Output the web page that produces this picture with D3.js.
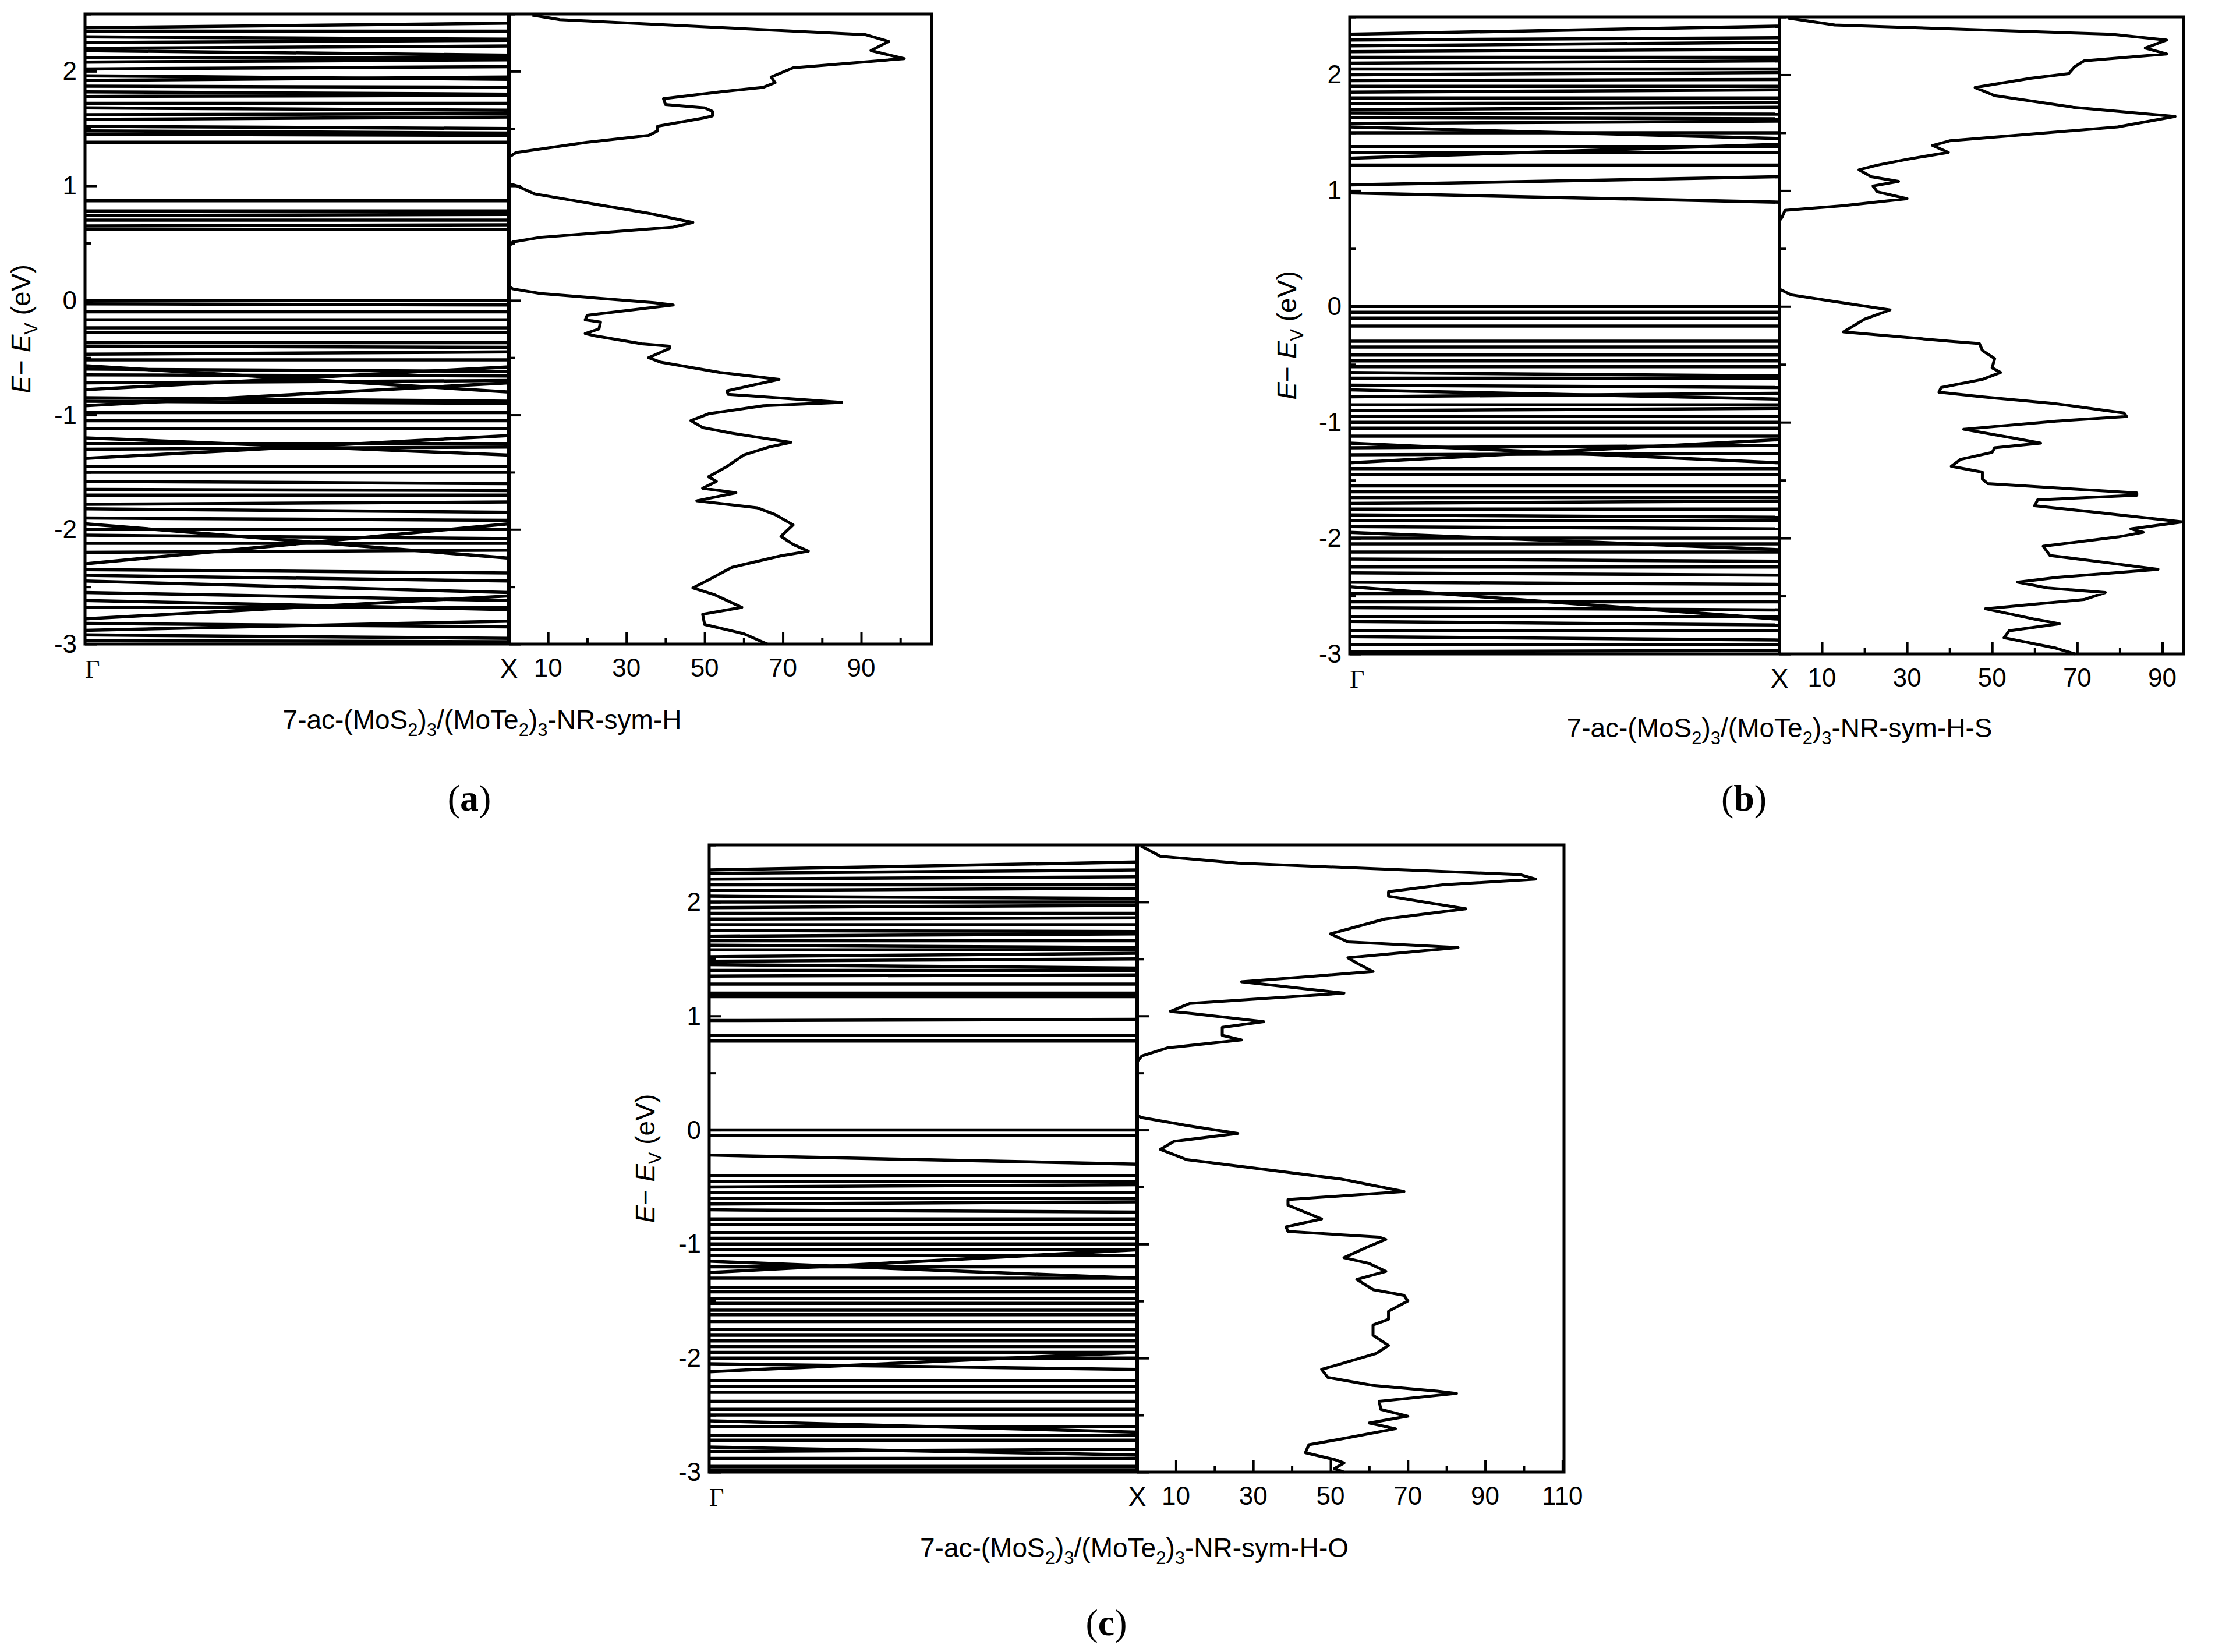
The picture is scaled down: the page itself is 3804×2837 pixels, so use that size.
<!DOCTYPE html>
<html>
<head>
<meta charset="utf-8">
<script src="https://cdn.jsdelivr.net/npm/d3@7"></script>
<style>
body { margin: 0; background: #fff; }
</style>
</head>
<body>
<div id="vis"></div>
<script>
const WIDTH = 3804, HEIGHT = 2837;
const SANS = "Liberation Sans, Arial, sans-serif";
const SERIF = "Liberation Serif, Times New Roman, serif";

// band energies [E at Gamma, E at X]
const bandsA = [[2.38,2.42],[2.35,2.35],[2.3,2.28],[2.25,2.27],[2.2,2.22],[2.18,2.14],[2.12,2.12],[2.08,2.1],[2.02,2.04],[1.96,1.93],[1.92,1.95],[1.87,1.86],[1.82,1.8],[1.78,1.79],[1.72,1.72],[1.68,1.66],[1.62,1.63],[1.58,1.6],[1.52,1.5],[1.48,1.46],[1.45,1.44],[1.38,1.38],
  [0.87,0.87],[0.78,0.78],[0.74,0.75],[0.7,0.7],[0.65,0.66],[0.62,0.62],
  [0,0],[-0.03,-0.04],[-0.1,-0.1],[-0.17,-0.17],[-0.24,-0.24],[-0.28,-0.28],[-0.37,-0.37],[-0.4,-0.41],[-0.47,-0.45],[-0.52,-0.52],[-0.57,-0.8],[-0.6,-0.62],[-0.65,-0.66],[-0.72,-0.7],[-0.78,-0.58],[-0.85,-0.88],[-0.88,-0.9],[-0.92,-0.72],[-0.98,-0.98],[-1.05,-1.05],[-1.12,-1.12],[-1.2,-1.35],[-1.25,-1.25],[-1.3,-1.28],[-1.38,-1.18],[-1.45,-1.45],[-1.5,-1.5],[-1.58,-1.6],[-1.65,-1.66],[-1.7,-1.7],[-1.78,-1.76],[-1.82,-1.85],[-1.9,-1.92],[-1.95,-2.25],[-2.0,-2.0],[-2.05,-2.08],[-2.12,-2.12],[-2.2,-2.18],[-2.3,-1.95],[-2.35,-2.38],[-2.4,-2.45],[-2.45,-2.55],[-2.55,-2.62],[-2.62,-2.7],[-2.68,-2.68],[-2.78,-2.58],[-2.82,-2.85],[-2.88,-2.8],[-2.92,-2.95],[-2.97,-2.98]];

const bandsB = [[2.35,2.42],[2.3,2.32],[2.25,2.28],[2.2,2.22],[2.15,2.15],[2.1,2.12],[2.05,2.05],[2.0,2.02],[1.95,1.96],[1.9,1.9],[1.85,1.87],[1.8,1.8],[1.75,1.76],[1.7,1.72],[1.67,1.66],[1.63,1.62],[1.58,1.6],[1.55,1.45],[1.5,1.5],[1.38,1.38],[1.33,1.33],[1.28,1.4],[1.22,1.22],[1.05,1.12],[0.98,0.9],
  [0,0],[-0.05,-0.05],[-0.1,-0.1],[-0.17,-0.17],[-0.3,-0.3],[-0.35,-0.35],[-0.42,-0.42],[-0.47,-0.47],[-0.52,-0.52],[-0.57,-0.6],[-0.62,-0.62],[-0.68,-0.7],[-0.72,-0.8],[-0.78,-0.75],[-0.85,-0.85],[-0.9,-0.88],[-0.95,-0.95],[-1.0,-1.0],[-1.05,-1.05],[-1.12,-1.12],[-1.18,-1.35],[-1.22,-1.2],[-1.28,-1.27],[-1.35,-1.15],[-1.4,-1.4],[-1.45,-1.45],[-1.55,-1.55],[-1.6,-1.6],[-1.65,-1.65],[-1.7,-1.68],[-1.75,-1.75],[-1.8,-1.82],[-1.85,-1.85],[-1.9,-1.92],[-1.95,-2.1],[-2.0,-2.0],[-2.05,-2.05],[-2.12,-2.12],[-2.18,-2.2],[-2.25,-2.25],[-2.3,-2.32],[-2.38,-2.4],[-2.42,-2.7],[-2.48,-2.48],[-2.55,-2.55],[-2.6,-2.62],[-2.68,-2.68],[-2.72,-2.75],[-2.8,-2.8],[-2.85,-2.88],[-2.92,-2.92],[-2.98,-2.97]];

const bandsC = [[2.28,2.35],[2.25,2.28],[2.2,2.22],[2.15,2.15],[2.1,2.12],[2.05,2.03],[2.0,2.0],[1.95,1.97],[1.9,1.9],[1.85,1.86],[1.8,1.8],[1.75,1.74],[1.7,1.72],[1.66,1.66],[1.62,1.6],[1.58,1.58],[1.52,1.55],[1.48,1.5],[1.45,1.42],[1.4,1.4],[1.35,1.36],[1.28,1.28],[1.2,1.2],[1.17,1.17],[0.96,0.97],[0.83,0.83],[0.78,0.78],
  [0,0],[-0.05,-0.05],[-0.22,-0.3],[-0.4,-0.4],[-0.45,-0.45],[-0.5,-0.48],[-0.55,-0.55],[-0.6,-0.6],[-0.65,-0.63],[-0.7,-0.72],[-0.78,-0.78],[-0.83,-0.83],[-0.9,-0.9],[-0.95,-0.95],[-1.0,-1.0],[-1.05,-1.05],[-1.1,-1.1],[-1.15,-1.3],[-1.2,-1.2],[-1.25,-1.05],[-1.3,-1.3],[-1.38,-1.38],[-1.42,-1.42],[-1.48,-1.48],[-1.52,-1.52],[-1.58,-1.58],[-1.62,-1.62],[-1.68,-1.68],[-1.75,-1.75],[-1.8,-1.8],[-1.85,-1.85],[-1.9,-1.9],[-1.95,-1.95],[-2.0,-2.0],[-2.05,-2.1],[-2.12,-1.95],[-2.2,-2.2],[-2.25,-2.25],[-2.3,-2.3],[-2.38,-2.38],[-2.45,-2.45],[-2.5,-2.5],[-2.55,-2.65],[-2.6,-2.6],[-2.68,-2.68],[-2.72,-2.72],[-2.78,-2.85],[-2.82,-2.8],[-2.88,-2.88],[-2.95,-2.95],[-2.98,-2.98]];

// DOS curves [E, DOS]
const dosA = [[2.49,6],[2.45,13],[2.32,91],[2.26,97],[2.18,92.5],[2.11,101],[2.03,72.6],[1.95,67],[1.9,68],[1.86,65],[1.82,54],[1.76,39.5],[1.71,40],[1.68,50],[1.65,52],[1.61,52],[1.59,49.5],[1.52,38],[1.48,38],[1.44,35.7],[1.38,20],[1.29,1.8],[1.25,0],[1.02,0],[1.0,2],[0.93,6.5],[0.76,35.7],[0.68,47],[0.64,42],[0.55,8],[0.51,1],[0.47,0],[0.12,0],[0.1,1],[0.06,8],[-0.02,37],[-0.04,42],[-0.13,20],[-0.17,19.5],[-0.19,23.4],[-0.25,23],[-0.29,19.5],[-0.31,22],[-0.38,34],[-0.4,41],[-0.42,41],[-0.5,35.7],[-0.54,38.8],[-0.63,54],[-0.69,69],[-0.79,55.7],[-0.82,56],[-0.89,85],[-0.92,65],[-0.99,51],[-1.05,46.5],[-1.11,49.5],[-1.16,57],[-1.24,72],[-1.28,66.5],[-1.35,60],[-1.45,55.7],[-1.54,51],[-1.58,53],[-1.64,49.5],[-1.68,58],[-1.75,48],[-1.81,63.4],[-1.87,68],[-1.96,72.6],[-2.06,69.5],[-2.13,72.6],[-2.19,76.5],[-2.23,69.5],[-2.33,57],[-2.44,51],[-2.51,47],[-2.57,52.6],[-2.68,59.5],[-2.74,49.5],[-2.83,50],[-2.91,60],[-3,66]];

const dosB = [[2.49,2],[2.43,13],[2.35,78],[2.3,91],[2.23,86],[2.18,91],[2.12,71.6],[2.07,69.4],[2.01,68],[1.97,59],[1.89,46],[1.82,50.6],[1.72,69],[1.64,93],[1.55,79.5],[1.43,40],[1.39,36],[1.33,39.7],[1.27,30],[1.22,23],[1.18,18.7],[1.12,21.6],[1.08,28],[1.04,22],[0.99,23],[0.93,30],[0.87,15],[0.83,1.3],[0.77,0.6],[0.74,0],[0.15,0],[0.1,2.8],[0.05,11.5],[-0.03,26],[-0.11,20],[-0.22,15],[-0.3,40],[-0.32,47],[-0.38,47.7],[-0.45,50.6],[-0.53,50],[-0.57,52],[-0.63,47.7],[-0.7,38],[-0.74,37.5],[-0.78,47.7],[-0.84,65],[-0.92,81],[-0.95,81.6],[-0.99,65],[-1.06,43.3],[-1.13,54],[-1.18,61.4],[-1.22,50.6],[-1.26,50],[-1.32,42.6],[-1.38,40.4],[-1.43,47.7],[-1.49,47.7],[-1.53,49],[-1.61,84],[-1.63,84],[-1.67,60.7],[-1.72,60],[-1.78,75],[-1.86,94.8],[-1.92,82.6],[-1.95,85.5],[-1.99,79.6],[-2.07,62],[-2.15,63.6],[-2.21,76.6],[-2.27,89],[-2.34,65],[-2.38,56],[-2.43,63],[-2.47,76.6],[-2.53,71.6],[-2.61,48.4],[-2.7,60],[-2.74,65.8],[-2.8,54],[-2.86,52.8],[-2.95,65],[-3,69.4]];

const dosC = [[2.49,1],[2.4,6],[2.34,26],[2.24,99],[2.2,103],[2.15,79],[2.09,65],[2.05,65],[1.94,85],[1.85,64],[1.72,50],[1.65,54.5],[1.6,83],[1.51,54.5],[1.46,57],[1.39,61],[1.35,46],[1.3,27],[1.2,53.5],[1.11,13.6],[1.04,8.6],[1.02,14.5],[0.95,32.7],[0.9,22],[0.83,22],[0.79,27],[0.72,7.8],[0.65,1.2],[0.6,0],[0.13,0],[0.11,1],[0.04,12.8],[-0.03,26],[-0.1,9.5],[-0.17,6],[-0.26,12.8],[-0.33,29.4],[-0.43,52.7],[-0.54,69],[-0.61,39],[-0.66,39],[-0.78,47.7],[-0.85,38.5],[-0.89,39],[-0.94,62.6],[-0.96,64.3],[-1.03,59.3],[-1.12,53.5],[-1.17,60],[-1.24,64.3],[-1.31,56.8],[-1.4,61],[-1.45,69],[-1.5,70],[-1.59,65],[-1.66,65],[-1.71,61],[-1.8,61],[-1.89,65],[-1.96,61.8],[-2.1,47.7],[-2.17,49.3],[-2.24,61],[-2.29,77.6],[-2.31,82.6],[-2.38,62.6],[-2.45,63],[-2.51,70],[-2.57,60],[-2.62,66.8],[-2.71,52.7],[-2.76,44.4],[-2.83,43.5],[-2.89,51],[-2.92,53.5],[-2.97,51],[-3,53.5]];

const eTicks = [-3, -2, -1, 0, 1, 2];
const dosTicksAB = [10, 30, 50, 70, 90];
const dosTicksC = [10, 30, 50, 70, 90, 110];

const svg = d3.select("#vis").append("svg")
  .attr("width", WIDTH).attr("height", HEIGHT)
  .style("font-family", SANS);

function subTitle(g, x, y, suffix) {
  const t = g.append("text").attr("x", x).attr("y", y)
    .attr("text-anchor", "middle").attr("font-size", 46);
  // [text, shift]: shift 1 = lower as subscript, -1 = back up
  const parts = [["7-ac-(MoS", 0], ["2", 1], [")", -1], ["3", 1], ["/(MoTe", -1], ["2", 1], [")", -1], ["3", 1], ["-NR-sym-" + suffix, -1]];
  parts.forEach(p => {
    t.append("tspan").text(p[0])
      .attr("font-size", p[1] === 1 ? 31 : 46)
      .attr("dy", p[1] * 12);
  });
}

function panel(p) {
  const g = svg.append("g");
  const y = d3.scaleLinear().domain([-3, 2.5]).range([p.yb, p.yt]);
  const xb = d3.scaleLinear().domain([0, 1]).range([p.x0, p.xd]);
  const xd = d3.scaleLinear().domain([0, p.dosMax]).range([p.xd, p.x1]);

  // bands
  g.selectAll("line.band").data(p.bands).enter().append("line")
    .attr("x1", xb(0)).attr("x2", xb(1))
    .attr("y1", d => y(d[0])).attr("y2", d => y(d[1]))
    .attr("stroke", "#000").attr("stroke-width", 5.5);

  // DOS
  g.append("path").datum(p.dos)
    .attr("d", d3.line().x(d => xd(d[1])).y(d => y(d[0])))
    .attr("fill", "none").attr("stroke", "#000").attr("stroke-width", 5)
    .attr("stroke-linejoin", "round");

  // frames
  g.append("rect").attr("x", p.x0).attr("y", p.yt)
    .attr("width", p.x1 - p.x0).attr("height", p.yb - p.yt)
    .attr("fill", "none").attr("stroke", "#000").attr("stroke-width", 5);
  g.append("line").attr("x1", p.xd).attr("x2", p.xd).attr("y1", p.yt).attr("y2", p.yb)
    .attr("stroke", "#000").attr("stroke-width", 6);

  // left axis (ticks inward): major at integers, minor at halves
  [[eTicks, 20], [d3.range(-2.5, 2.51, 1), 11]].forEach(([vals, len]) => {
    const a = g.append("g").attr("transform", `translate(${p.x0},0)`)
      .call(d3.axisRight(y).tickValues(vals).tickSize(len).tickFormat(""));
    a.select(".domain").remove();
    a.selectAll("line").attr("stroke-width", 4);
    const m = g.append("g").attr("transform", `translate(${p.xd},0)`)
      .call(d3.axisRight(y).tickValues(vals).tickSize(len).tickFormat(""));
    m.select(".domain").remove();
    m.selectAll("line").attr("stroke-width", 4);
  });
  g.selectAll("text.ylab").data(eTicks).enter().append("text")
    .attr("x", p.x0 - 14).attr("y", d => y(d) + 15)
    .attr("text-anchor", "end").attr("font-size", 44).text(d => d);

  // DOS bottom axis (ticks inward)
  [[p.dosTicks.filter(v => v < p.dosMax), 20], [d3.range(20, p.dosMax, 20), 11]].forEach(([vals, len]) => {
    const b = g.append("g").attr("transform", `translate(0,${p.yb})`)
      .call(d3.axisTop(xd).tickValues(vals).tickSize(len).tickFormat(""));
    b.select(".domain").remove();
    b.selectAll("line").attr("stroke-width", 4);
  });
  g.selectAll("text.xlab").data(p.dosTicks).enter().append("text")
    .attr("x", d => xd(d)).attr("y", p.yb + 56)
    .attr("text-anchor", "middle").attr("font-size", 44).text(d => d);

  g.append("text").attr("x", p.x0).attr("y", p.yb + 58)
    .attr("font-size", 44).style("font-family", SERIF).text("\u0393");
  g.append("text").attr("x", p.xd).attr("y", p.yb + 58).attr("text-anchor", "middle")
    .attr("font-size", 46).text("X");

  // y label
  const yl = g.append("text")
    .attr("transform", `translate(${p.ylx},${(p.yt + p.yb) / 2}) rotate(-90)`)
    .attr("text-anchor", "middle").attr("font-size", 46);
  yl.append("tspan").attr("font-style", "italic").text("E");
  yl.append("tspan").text("\u2212 ");
  yl.append("tspan").attr("font-style", "italic").text("E");
  yl.append("tspan").attr("font-size", 31).attr("dy", 12).text("V");
  yl.append("tspan").attr("dy", -12).text(" (eV)");

  subTitle(g, p.tx, p.ty, p.suffix);
  const lt = g.append("text").attr("x", p.lx).attr("y", p.ly).attr("text-anchor", "middle")
    .style("font-family", SERIF).attr("font-size", 64);
  lt.append("tspan").text("(");
  lt.append("tspan").attr("font-weight", "bold").text(p.letter);
  lt.append("tspan").text(")");
}

panel({bands: bandsA, dos: dosA, dosMax: 108, dosTicks: dosTicksAB,
  x0: 146, xd: 874, x1: 1600, yt: 24, yb: 1106, ylx: 52,
  tx: 828, ty: 1252, suffix: "H", lx: 806, ly: 1392, letter: "a"});
panel({bands: bandsB, dos: dosB, dosMax: 95, dosTicks: dosTicksAB,
  x0: 2318, xd: 3056, x1: 3750, yt: 29, yb: 1123, ylx: 2226,
  tx: 3056, ty: 1266, suffix: "H-S", lx: 2995, ly: 1392, letter: "b"});
panel({bands: bandsC, dos: dosC, dosMax: 110.4, dosTicks: dosTicksC,
  x0: 1218, xd: 1953, x1: 2686, yt: 1451, yb: 2528, ylx: 1124,
  tx: 1948, ty: 2674, suffix: "H-O", lx: 1900, ly: 2808, letter: "c"});
</script>
</body>
</html>
